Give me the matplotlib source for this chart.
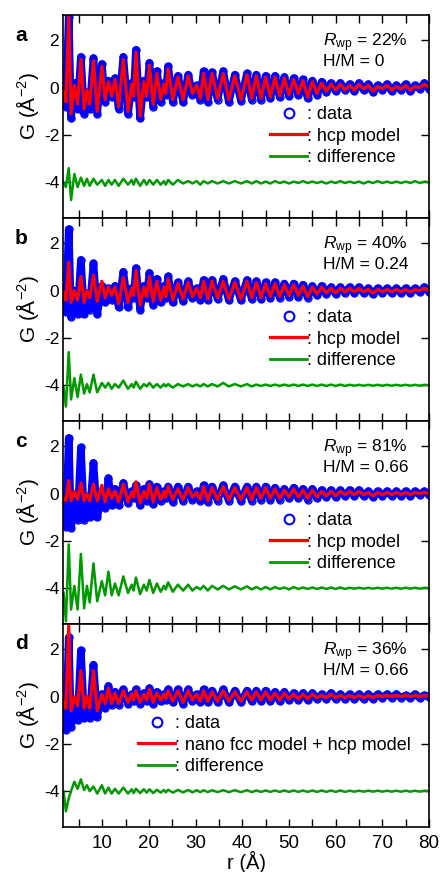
import matplotlib
matplotlib.use("Agg")
import matplotlib.pyplot as plt
from matplotlib.lines import Line2D
from matplotlib.ticker import MultipleLocator

plt.rcParams['font.family'] = ['Liberation Sans', 'DejaVu Sans']
plt.rcParams['mathtext.fontset'] = 'custom'
plt.rcParams['mathtext.rm'] = 'Liberation Sans'
plt.rcParams['mathtext.it'] = 'Liberation Sans:italic'
plt.rcParams['axes.unicode_minus'] = False

# r grid (Å), shared by every panel: alternating troughs / peaks
r = [1.7, 2.2, 2.8, 3.3, 4.0, 4.7, 5.4, 6.1, 6.7, 7.3,
     8.1, 8.9, 9.9, 10.6, 11.3, 12.0, 12.7, 13.5, 14.5, 15.5,
     16.3, 16.7, 17.2, 18.1, 18.9, 19.5, 20.1, 20.9, 21.7, 22.5,
     23.2, 23.6, 24.1, 25.1, 26.2, 27.3, 28.4, 29.3, 30.2, 31.0,
     31.7, 32.6, 33.5, 34.7, 35.9, 37.1, 38.4, 39.7, 41.0, 42.0,
     43.0, 44.0, 45.0, 46.0, 47.0, 48.0, 49.0, 50.0, 51.0, 52.0,
     53.0, 54.0, 55.0, 56.0, 57.0, 58.0, 59.0, 60.0, 61.0, 62.0,
     63.0, 64.0, 65.0, 66.0, 67.0, 68.0, 69.0, 70.0, 71.0, 72.0,
     73.0, 74.0, 75.0, 76.0, 77.0, 78.0, 79.0, 80.0]

# panel a, H/M = 0
data_a = [-0.3, -0.8, 3.0, -1.3, 0.2, -0.9, 1.3, -1.1, -0.2, -0.9,
          1.25, -1.1, 1.0, -0.6, 0.3, -0.4, 0.4, -0.9, 1.3, -1.1,
          0.2, -0.4, 1.6, -1.3, 0.3, -0.4, 1.05, -0.8, 0.7, -0.6,
          0.2, -0.3, 0.9, -0.6, 0.5, -0.6, 0.55, -0.3, 0.1, -0.5,
          0.7, -0.6, 0.65, -0.5, 0.7, -0.6, 0.55, -0.55, 0.6, -0.5,
          0.55, -0.5, 0.5, -0.45, 0.5, -0.4, 0.45, -0.35, 0.4, -0.3,
          0.35, -0.45, 0.3, -0.3, 0.25, -0.2, 0.2, -0.15, 0.2, -0.1,
          0.15, -0.15, 0.2, -0.1, 0.15, -0.2, 0.1, -0.1, 0.15, -0.15,
          0.1, -0.1, 0.15, -0.15, 0.1, -0.05, 0.2, -0.05]
model_a = [-0.2, -0.6, 3.0, -1.1, 0.1, -0.7, 1.2, -0.9, -0.1, -0.7,
           1.15, -1.0, 0.9, -0.5, 0.25, -0.35, 0.35, -0.8, 1.2, -1.0,
           0.15, -0.35, 1.5, -1.2, 0.25, -0.35, 0.95, -0.7, 0.6, -0.5,
           0.15, -0.25, 0.8, -0.5, 0.45, -0.5, 0.5, -0.25, 0.1, -0.45,
           0.6, -0.5, 0.6, -0.45, 0.6, -0.5, 0.5, -0.5, 0.55, -0.45,
           0.5, -0.45, 0.45, -0.4, 0.45, -0.35, 0.4, -0.3, 0.35, -0.25,
           0.3, -0.4, 0.25, -0.25, 0.2, -0.15, 0.15, -0.1, 0.15, -0.1,
           0.1, -0.1, 0.15, -0.05, 0.1, -0.15, 0.05, -0.05, 0.1, -0.1,
           0.05, -0.05, 0.1, -0.1, 0.05, 0.0, 0.15, 0.0]
diff_a = [-4.0, -4.2, -3.4, -4.75, -3.65, -4.2, -3.8, -4.15, -3.85, -4.15,
          -3.85, -4.1, -3.9, -4.15, -3.9, -4.1, -3.9, -4.15, -3.85, -4.1,
          -3.9, -4.1, -3.85, -4.15, -3.9, -4.1, -3.9, -4.1, -3.9, -4.1,
          -3.95, -4.1, -3.9, -4.1, -3.9, -4.05, -3.95, -4.05, -3.95, -4.1,
          -3.95, -4.05, -3.95, -4.05, -3.95, -4.05, -3.95, -4.05, -3.95, -4.05,
          -3.95, -4.05, -3.97, -4.05, -3.95, -4.03, -3.97, -4.05, -3.97, -4.03,
          -3.95, -4.03, -3.97, -4.03, -3.97, -4.05, -3.97, -4.03, -3.95, -4.03,
          -3.97, -4.03, -3.97, -4.05, -3.97, -4.03, -3.95, -4.03, -3.97, -4.03,
          -3.97, -4.03, -3.97, -4.03, -3.95, -4.03, -3.97, -4.0]

# panel b, H/M = 0.24
data_b = [-0.3, -0.9, 2.6, -1.1, 0.0, -1.0, 1.3, -1.0, -0.1, -0.8,
          1.15, -1.0, 0.2, -0.5, 0.1, -0.4, 0.2, -0.7, 0.8, -0.7,
          0.1, -0.3, 0.95, -0.8, 0.2, -0.3, 0.75, -0.6, 0.5, -0.5,
          0.2, -0.3, 0.6, -0.5, 0.35, -0.45, 0.4, -0.3, 0.1, -0.4,
          0.45, -0.4, 0.45, -0.35, 0.5, -0.4, 0.4, -0.4, 0.45, -0.35,
          0.4, -0.35, 0.35, -0.3, 0.35, -0.3, 0.3, -0.25, 0.3, -0.25,
          0.25, -0.3, 0.2, -0.2, 0.2, -0.15, 0.15, -0.15, 0.15, -0.1,
          0.15, -0.1, 0.15, -0.1, 0.1, -0.15, 0.1, -0.1, 0.1, -0.1,
          0.1, -0.1, 0.1, -0.1, 0.1, -0.05, 0.15, -0.05]
model_b = [-0.1, -0.4, 1.2, -0.5, 0.0, -0.4, 0.6, -0.5, 0.0, -0.3,
           0.65, -0.45, 0.4, -0.3, 0.15, -0.2, 0.15, -0.55, 0.55, -0.5,
           0.1, -0.2, 0.85, -0.6, 0.15, -0.25, 0.6, -0.45, 0.4, -0.4,
           0.15, -0.25, 0.5, -0.4, 0.3, -0.35, 0.35, -0.25, 0.1, -0.3,
           0.4, -0.35, 0.4, -0.3, 0.4, -0.35, 0.35, -0.35, 0.4, -0.3,
           0.35, -0.3, 0.3, -0.25, 0.3, -0.25, 0.25, -0.2, 0.25, -0.2,
           0.2, -0.25, 0.15, -0.15, 0.15, -0.1, 0.1, -0.1, 0.1, -0.05,
           0.1, -0.05, 0.1, -0.05, 0.05, -0.1, 0.05, -0.05, 0.05, -0.05,
           0.05, -0.05, 0.05, -0.05, 0.05, 0.0, 0.1, 0.0]
diff_b = [-4.1, -4.9, -2.6, -4.6, -3.7, -4.5, -3.55, -4.35, -3.95, -4.3,
          -3.55, -4.3, -3.9, -4.1, -3.9, -4.15, -3.95, -4.1, -3.8, -4.15,
          -3.95, -4.1, -3.85, -4.15, -3.95, -4.05, -3.9, -4.1, -3.95, -4.1,
          -3.95, -4.05, -3.95, -4.1, -3.95, -4.05, -3.95, -4.05, -3.97, -4.05,
          -3.95, -4.05, -3.95, -4.05, -3.9, -4.05, -3.95, -4.05, -3.95, -4.05,
          -3.97, -4.03, -3.97, -4.03, -3.97, -4.03, -3.97, -4.03, -3.97, -4.03,
          -3.97, -4.03, -3.97, -4.03, -3.97, -4.03, -3.97, -4.03, -3.97, -4.03,
          -3.98, -4.02, -3.98, -4.02, -3.98, -4.02, -3.98, -4.02, -3.98, -4.02,
          -3.98, -4.02, -3.98, -4.02, -3.98, -4.02, -3.98, -4.0]

# panel c, H/M = 0.66
data_c = [-0.5, -1.4, 2.35, -1.45, -0.3, -1.1, 1.95, -1.1, -0.3, -1.0,
          1.3, -1.0, 0.0, -0.6, 0.65, -0.5, 0.2, -0.5, 0.45, -0.4,
          0.1, -0.2, 0.35, -0.5, 0.2, -0.3, 0.4, -0.45, 0.3, -0.3,
          0.1, -0.2, 0.3, -0.35, 0.3, -0.3, 0.3, -0.25, 0.1, -0.3,
          0.35, -0.35, 0.3, -0.3, 0.35, -0.3, 0.3, -0.3, 0.3, -0.3,
          0.3, -0.25, 0.3, -0.25, 0.25, -0.25, 0.2, -0.2, 0.25, -0.2,
          0.2, -0.25, 0.2, -0.2, 0.15, -0.15, 0.15, -0.15, 0.15, -0.1,
          0.15, -0.1, 0.15, -0.1, 0.1, -0.15, 0.1, -0.1, 0.1, -0.1,
          0.1, -0.1, 0.1, -0.1, 0.1, -0.05, 0.1, -0.05]
model_c = [-0.2, -0.3, 0.55, -0.3, 0.1, -0.25, 0.45, -0.3, 0.0, -0.3,
           0.4, -0.3, 0.35, -0.35, 0.2, -0.2, 0.1, -0.35, 0.4, -0.35,
           0.05, -0.15, 0.5, -0.4, 0.1, -0.2, 0.4, -0.35, 0.25, -0.25,
           0.1, -0.15, 0.3, -0.25, 0.2, -0.25, 0.25, -0.15, 0.05, -0.25,
           0.3, -0.3, 0.25, -0.25, 0.3, -0.25, 0.25, -0.25, 0.25, -0.25,
           0.25, -0.2, 0.25, -0.2, 0.2, -0.2, 0.15, -0.15, 0.2, -0.15,
           0.15, -0.2, 0.15, -0.15, 0.1, -0.1, 0.1, -0.1, 0.1, -0.05,
           0.1, -0.05, 0.1, -0.05, 0.05, -0.1, 0.05, -0.05, 0.05, -0.05,
           0.05, -0.05, 0.05, -0.05, 0.05, 0.0, 0.05, 0.0]
diff_c = [-4.2, -5.4, -2.15, -4.9, -3.9, -4.9, -2.55, -4.85, -3.9, -4.6,
          -2.95, -4.55, -3.7, -4.3, -3.3, -4.3, -3.8, -4.3, -3.5, -4.2,
          -3.85, -4.1, -3.55, -4.25, -3.85, -4.1, -3.65, -4.2, -3.8, -4.15,
          -3.9, -4.05, -3.75, -4.15, -3.85, -4.1, -3.85, -4.1, -3.95, -4.05,
          -3.9, -4.1, -3.9, -4.05, -3.9, -4.05, -3.92, -4.05, -3.92, -4.05,
          -3.95, -4.05, -3.95, -4.05, -3.95, -4.03, -3.97, -4.05, -3.95, -4.03,
          -3.97, -4.03, -3.97, -4.03, -3.97, -4.03, -3.97, -4.03, -3.97, -4.03,
          -3.98, -4.02, -3.98, -4.02, -3.98, -4.02, -3.98, -4.02, -3.98, -4.02,
          -3.98, -4.02, -3.98, -4.02, -3.98, -4.02, -3.98, -4.0]

# panel d, H/M = 0.66, nano fcc + hcp
data_d = [-0.4, -1.4, 2.5, -1.3, -0.2, -1.0, 1.95, -0.9, -0.2, -0.9,
          1.35, -0.85, 0.1, -0.5, 0.45, -0.35, 0.2, -0.35, 0.3, -0.3,
          0.1, -0.2, 0.3, -0.3, 0.15, -0.2, 0.35, -0.3, 0.2, -0.2,
          0.1, -0.15, 0.3, -0.25, 0.3, -0.3, 0.3, -0.2, 0.1, -0.25,
          0.3, -0.25, 0.25, -0.25, 0.3, -0.25, 0.25, -0.25, 0.25, -0.2,
          0.25, -0.2, 0.25, -0.2, 0.2, -0.2, 0.2, -0.15, 0.15, -0.15,
          0.15, -0.15, 0.15, -0.1, 0.1, -0.1, 0.15, -0.1, 0.1, -0.1,
          0.1, -0.1, 0.1, -0.1, 0.1, -0.1, 0.1, -0.05, 0.1, -0.05,
          0.1, -0.05, 0.05, -0.05, 0.1, -0.05, 0.05, 0.0]
model_d = [-0.2, -0.5, 3.0, -0.6, 0.0, -0.4, 1.1, -0.5, 0.0, -0.5,
           1.1, -0.6, 0.1, -0.3, 0.35, -0.3, 0.15, -0.3, 0.25, -0.25,
           0.1, -0.15, 0.25, -0.25, 0.1, -0.15, 0.3, -0.25, 0.15, -0.15,
           0.1, -0.1, 0.25, -0.2, 0.25, -0.25, 0.25, -0.15, 0.1, -0.2,
           0.25, -0.2, 0.2, -0.2, 0.25, -0.2, 0.2, -0.2, 0.2, -0.15,
           0.2, -0.15, 0.2, -0.15, 0.15, -0.15, 0.15, -0.1, 0.1, -0.1,
           0.1, -0.1, 0.1, -0.05, 0.05, -0.05, 0.1, -0.05, 0.05, -0.05,
           0.05, -0.05, 0.05, -0.05, 0.05, -0.05, 0.05, 0.0, 0.05, 0.0,
           0.05, 0.0, 0.05, 0.0, 0.05, 0.0, 0.05, 0.0]
diff_d = [-4.0, -4.85, -4.3, -4.0, -3.6, -3.9, -3.5, -3.95, -3.75, -4.0,
          -3.8, -4.1, -3.75, -4.1, -3.85, -4.1, -3.9, -4.1, -3.85, -4.1,
          -3.92, -4.08, -3.9, -4.08, -3.92, -4.06, -3.92, -4.08, -3.94, -4.06,
          -3.95, -4.05, -3.94, -4.06, -3.95, -4.05, -3.95, -4.05, -3.96, -4.04,
          -3.96, -4.04, -3.96, -4.04, -3.96, -4.04, -3.96, -4.04, -3.96, -4.04,
          -3.97, -4.03, -3.97, -4.03, -3.97, -4.03, -3.97, -4.03, -3.97, -4.03,
          -3.97, -4.03, -3.97, -4.03, -3.97, -4.03, -3.97, -4.03, -3.97, -4.03,
          -3.98, -4.02, -3.98, -4.02, -3.98, -4.02, -3.98, -4.02, -3.98, -4.02,
          -3.98, -4.02, -3.98, -4.02, -3.98, -4.02, -3.98, -4.0]

letters = ["a", "b", "c", "d"]
rwp = ["22%", "40%", "81%", "36%"]
hm = ["0", "0.24", "0.66", "0.66"]
model_names = [": hcp model", ": hcp model", ": hcp model", ": nano fcc model + hcp model"]
datas = [data_a, data_b, data_c, data_d]
models = [model_a, model_b, model_c, model_d]
diffs = [diff_a, diff_b, diff_c, diff_d]
legend_x = [0.566, 0.566, 0.566, 0.205]

fig, axes = plt.subplots(4, 1, figsize=(4.4, 8.72), dpi=100, sharex=True)
fig.subplots_adjust(left=0.144, right=0.975, top=0.983, bottom=0.052, hspace=0)

for i, ax in enumerate(axes):
    ax.plot(r, datas[i], color='blue', lw=5.5, solid_joinstyle='round',
            marker='o', ms=5, mfc='none', mec='blue', mew=1)
    ax.plot(r, models[i], color='red', lw=2.3)
    ax.plot(r, diffs[i], color='#009a00', lw=1.8)

    ax.set_xlim(1.65, 80)
    ax.set_ylim(-5.5, 3.08)
    ax.xaxis.set_major_locator(MultipleLocator(10))
    ax.xaxis.set_minor_locator(MultipleLocator(5))
    ax.yaxis.set_major_locator(MultipleLocator(2))
    ax.tick_params(which='both', direction='in', top=True, right=True,
                   length=6, width=1)
    ax.tick_params(axis='y', labelsize=12.5, pad=3)
    ax.tick_params(axis='x', labelsize=13.5, pad=6)
    for sp in ax.spines.values():
        sp.set_linewidth(1.2)

    ax.set_ylabel("G (Å$^{-2}$)", fontsize=15)
    ax.yaxis.set_label_coords(-0.06, 0.55)

    ax.text(-0.115, 0.9, letters[i], transform=ax.transAxes, fontsize=15,
            fontweight='bold', ha='center', va='center')
    ax.text(0.71, 0.864, r"$R_{\mathrm{wp}}$ = " + rwp[i], transform=ax.transAxes,
            fontsize=12.5, ha='left', va='center')
    ax.text(0.71, 0.77, "H/M = " + hm[i], transform=ax.transAxes,
            fontsize=12.5, ha='left', va='center')

    handles = [Line2D([], [], ls='none', marker='o', ms=7, mfc='none', mec='blue', mew=1.5),
               Line2D([], [], color='red', lw=2.3),
               Line2D([], [], color='#009a00', lw=2)]
    ax.legend(handles, [": data", model_names[i], ": difference"],
              loc='upper left', bbox_to_anchor=(legend_x[i], 0.55),
              frameon=False, fontsize=13, handlelength=2.05, handletextpad=0,
              borderpad=0, borderaxespad=0, labelspacing=0.25)

axes[-1].set_xlabel("r (Å)", fontsize=14.5)
axes[-1].xaxis.set_label_coords(0.5, -0.118)

fig.savefig("out.png", dpi=100)
